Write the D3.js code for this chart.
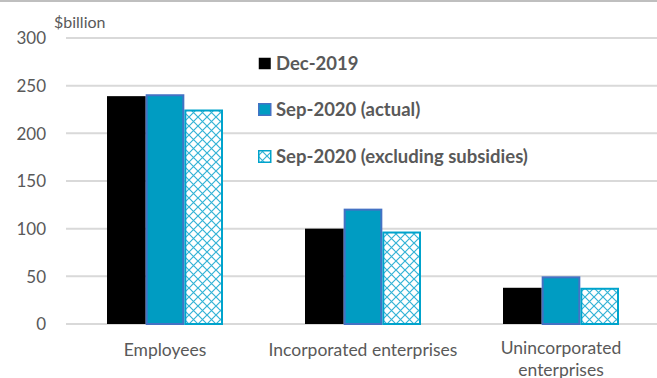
<!DOCTYPE html>
<html>
<head>
<meta charset="utf-8">
<script src="https://cdn.jsdelivr.net/npm/d3@7"></script>
<style>
  body { margin: 0; background: #fff; }
  svg text { font-family: Lato, "Open Sans", sans-serif; fill: #595959; }
</style>
</head>
<body>
<div class="chart"></div>
<script>
// chart data
var categories = ["Employees", "Incorporated enterprises", "Unincorporated enterprises"];
var seriesNames = ["Dec-2019", "Sep-2020 (actual)", "Sep-2020 (excluding subsidies)"];
var dec2019 = [239, 100, 38];
var sepActual = [241, 121, 50];
var sepExSubsidies = [225, 97, 38];
var yTicks = [0, 50, 100, 150, 200, 250, 300];

var seriesValues = [dec2019, sepActual, sepExSubsidies];

const width = 657, height = 378;
const margin = {top: 38, right: -3, bottom: 54, left: 66};
const grey = "#595959";

var svg = d3.select(".chart").append("svg")
    .attr("width", width).attr("height", height);

// hatch pattern for the excluding-subsidies series
var defs = svg.append("defs");
var pat = defs.append("pattern").attr("id", "hatch")
    .attr("patternUnits", "userSpaceOnUse")
    .attr("width", 9).attr("height", 9);
pat.append("rect").attr("width", 9).attr("height", 9).attr("fill", "#fff");
pat.append("path").attr("d", "M0,0 L9,9 M9,0 L0,9")
    .attr("stroke", "#33b3d6").attr("stroke-width", 1.2);

// top border
svg.append("rect").attr("x", 0).attr("y", 0).attr("width", width).attr("height", 2).attr("fill", "#bfbfbf");

var y = d3.scaleLinear().domain([0, 300]).range([height - margin.bottom, margin.top]);
var x0 = d3.scaleBand().domain(categories).range([margin.left, width - margin.right]).paddingInner(0).paddingOuter(0);
var x1 = d3.scaleBand().domain(seriesNames).range([0, 116]).padding(0);

// gridlines
svg.append("g").selectAll("line").data(yTicks).enter().append("line")
    .attr("x1", margin.left).attr("x2", width)
    .attr("y1", d => y(d)).attr("y2", d => y(d))
    .attr("stroke", "#d9d9d9").attr("stroke-width", 2);

// y axis labels
var yAxis = d3.axisLeft(y).tickValues(yTicks).tickSize(0).tickPadding(0);
var ga = svg.append("g").attr("transform", "translate(46,0)").call(yAxis);
ga.select(".domain").remove();
ga.selectAll("text").attr("font-size", "17px").attr("dy", "0.35em").style("font-family", "Lato, sans-serif").attr("fill", grey);

svg.append("text").attr("x", 54).attr("y", 28).attr("font-size", "16px").text("$billion");

// bars
var styles = [
    {fill: "#000000", stroke: "none", sw: 0},
    {fill: "#009cc2", stroke: "#4472c4", sw: 2},
    {fill: "url(#hatch)", stroke: "#00a3cc", sw: 2}
];

seriesNames.forEach((s, si) => {
    svg.append("g").selectAll("rect").data(seriesValues[si]).enter().append("rect")
        .attr("x", (d, i) => x0(categories[i]) + x0.bandwidth() / 2 - 58 + x1(s) + styles[si].sw / 2)
        .attr("y", d => y(d) + styles[si].sw / 2)
        .attr("width", x1.bandwidth() - styles[si].sw)
        .attr("height", d => y(0) - y(d) - styles[si].sw / 2)
        .attr("fill", styles[si].fill)
        .attr("stroke", styles[si].stroke)
        .attr("stroke-width", styles[si].sw);
});

// category labels
var lab = svg.append("g");
categories.forEach((c, i) => {
    var cx = x0(c) + x0.bandwidth() / 2;
    var t = lab.append("text").attr("x", cx).attr("text-anchor", "middle").attr("font-size", "17.5px");
    if (c == "Unincorporated enterprises") {
        t.append("tspan").attr("x", cx).attr("y", 354).text("Unincorporated");
        t.append("tspan").attr("x", cx).attr("y", 376).text("enterprises");
    } else {
        t.attr("y", 356).text(c);
    }
});

// legend
var legY = [63, 109, 156];
var leg = svg.append("g");
seriesNames.forEach((s, i) => {
    var g = leg.append("g").attr("transform", `translate(258,${legY[i]})`);
    g.append("rect").attr("x", 0.75).attr("y", -5.25).attr("width", 12).attr("height", 11.5)
        .attr("fill", i == 2 ? "url(#hatch)" : styles[i].fill)
        .attr("stroke", i == 0 ? "#000" : styles[i].stroke).attr("stroke-width", i == 0 ? 0 : 1.5);
    g.append("text").attr("x", 18).attr("y", 0).attr("dy", "0.36em")
        .attr("font-size", "18.5px").attr("font-weight", "bold").attr("fill", "#595959").text(s);
});
</script>
</body>
</html>
